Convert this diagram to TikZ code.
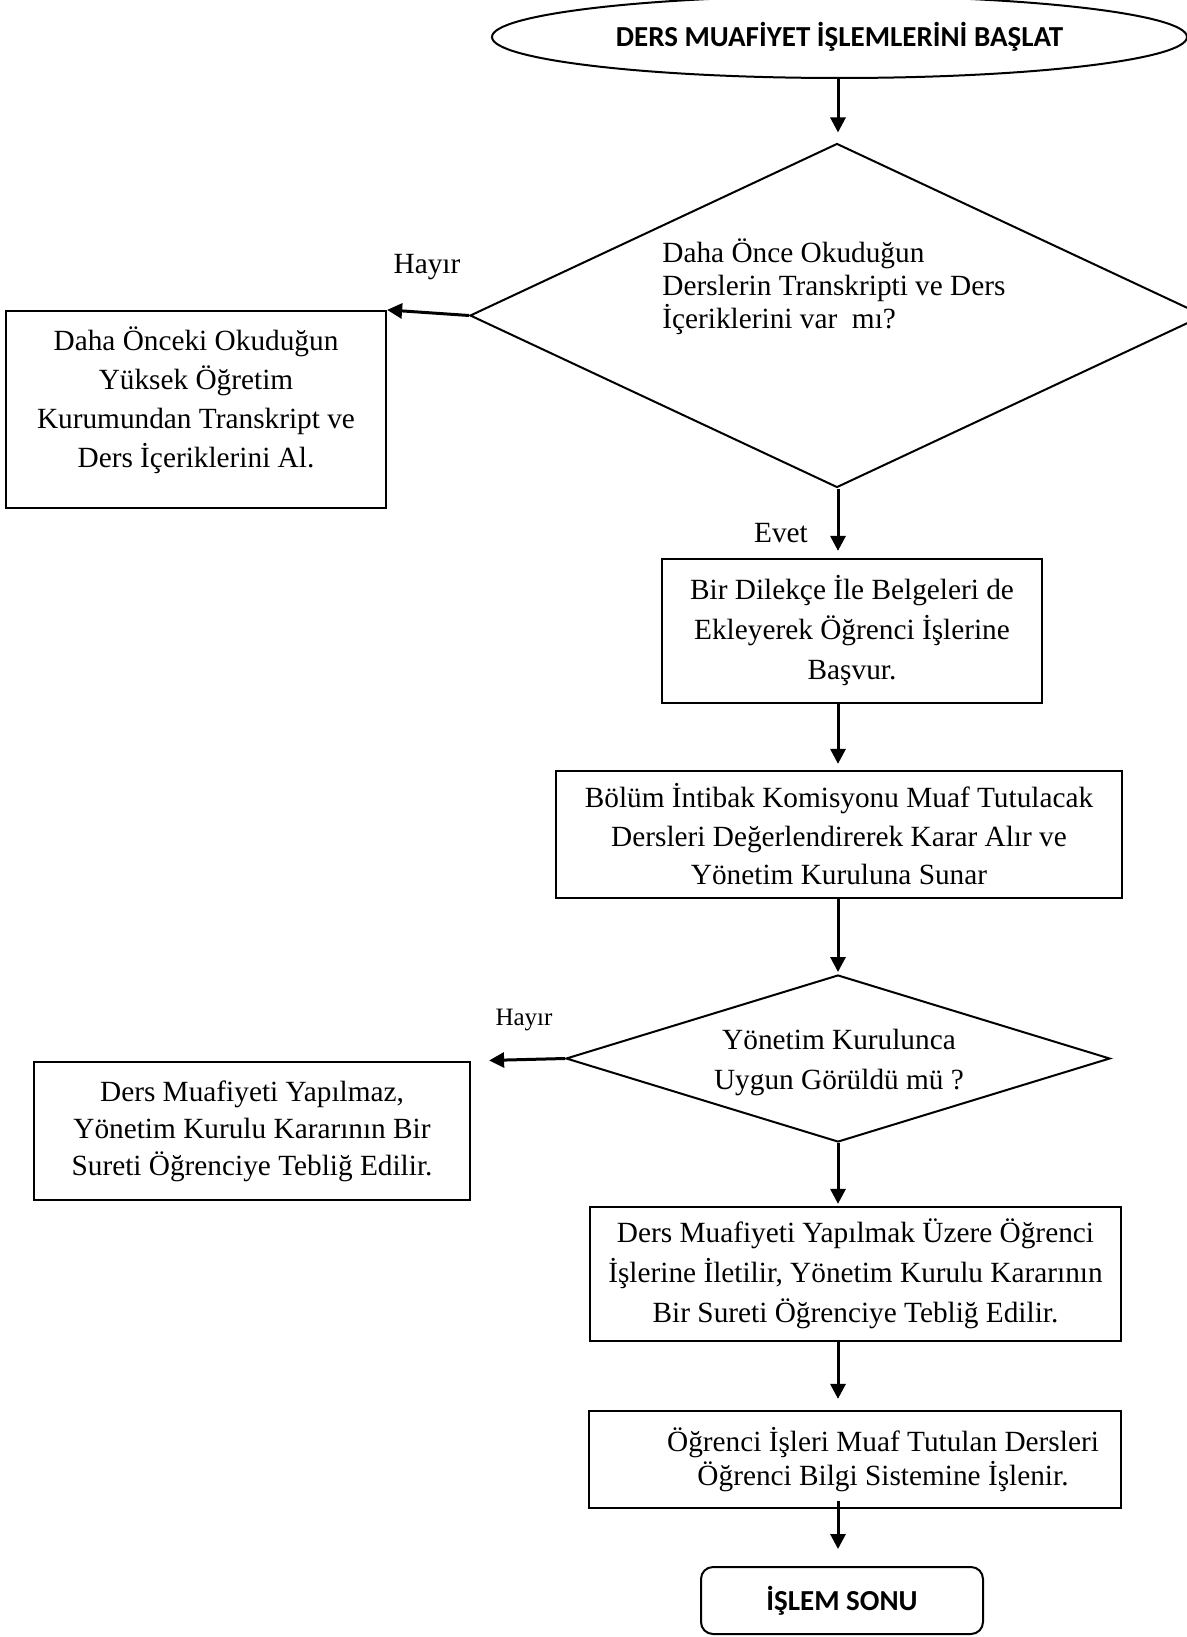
\documentclass[tikz,border=0pt]{standalone}
\usepackage{fontspec}
\setmainfont{Liberation Serif}
\newfontfamily\calfont{Carlito}
\usetikzlibrary{shapes.geometric,arrows.meta}

\begin{document}
\begin{tikzpicture}[x=0.5pt,y=-0.5pt,
  txt/.style={font=\fontsize{14.65}{#1}\selectfont, align=center, inner sep=0pt},
  procbox/.style={draw, rectangle, line width=1.1pt, inner sep=0pt, align=center},
  decision/.style={draw, diamond, line width=1pt, inner sep=0pt},
  terminal/.style={draw, line width=1pt, inner sep=0pt,
    font=\calfont\bfseries\fontsize{14.5}{17}\selectfont},
  arr/.style={line width=1.5pt, -{Triangle[length=7.5pt,width=7.5pt]}},
]
\clip (0,0) rectangle (1187,1637);

% main column of vertical connectors
\coordinate (col) at (838,0);

% start
\node[terminal, ellipse, minimum width=347.5pt, minimum height=41pt]
  (start) at (839.5,37) {DERS MUAFİYET İŞLEMLERİNİ BAŞLAT};

% first decision
\node[decision, minimum width=367pt, minimum height=172pt] (d1) at (837,315.5) {};
\node[txt=16.5, align=left, anchor=west] (d1text) at (662,287)
  {Daha Önce Okuduğun\\Derslerin Transkripti ve Ders\\İçeriklerini var~ mı?};

% "no" branch of the first decision
\node[txt=20] (no1) at (427,267) {Hayır};
\node[procbox, minimum width=190pt, minimum height=98.5pt] (box1) at (196,409.5) {};
\node[txt=19.5] (box1text) at (196,400)
  {Daha Önceki Okuduğun\\Yüksek Öğretim\\Kurumundan Transkript ve\\Ders İçeriklerini Al.};

% "yes" branch of the first decision
\node[txt=20] (yes1) at (781,533) {Evet};
\node[procbox, txt=20, minimum width=190pt, minimum height=72pt] (box2) at (852,631)
  {Bir Dilekçe İle Belgeleri de\\Ekleyerek Öğrenci İşlerine\\Başvur.};

\node[procbox, txt=19.25, minimum width=283pt, minimum height=63.5pt] (box3) at (839,834.5)
  {Bölüm İntibak Komisyonu Muaf Tutulacak\\Dersleri Değerlendirerek Karar Alır ve\\Yönetim Kuruluna Sunar};

% second decision
\node[decision, minimum width=272pt, minimum height=83.5pt] (d2) at (838,1058.5) {};
\node[txt=20] (d2text) at (839,1062) {Yönetim Kurulunca\\Uygun Görüldü mü ?};

\node[font=\fontsize{12.5}{15}\selectfont, inner sep=0pt] (no2) at (524,1020) {Hayır};
\node[procbox, txt=18.5, minimum width=218pt, minimum height=69pt] (box4) at (252,1131)
  {Ders Muafiyeti Yapılmaz,\\Yönetim Kurulu Kararının Bir\\Sureti Öğrenciye Tebliğ Edilir.};

\node[procbox, txt=20, minimum width=265.5pt, minimum height=67pt] (box5) at (855.5,1274)
  {Ders Muafiyeti Yapılmak Üzere Öğrenci\\İşlerine İletilir, Yönetim Kurulu Kararının\\Bir Sureti Öğrenciye Tebliğ Edilir.};

\node[procbox, minimum width=266pt, minimum height=48.5pt] (box6) at (855,1459.5) {};
\node[txt=17] (box6text) at (883,1460)
  {Öğrenci İşleri Muaf Tutulan Dersleri\\Öğrenci Bilgi Sistemine İşlenir.};

% end
\node[terminal, rectangle, rounded corners=6pt, minimum width=141pt, minimum height=33.5pt]
  (stop) at (842,1600.5) {İŞLEM SONU};

% connectors
\draw[arr, shorten >=5pt] (start.south -| col) -- (d1.north -| col);
\draw[arr] (d1.west) -- (box1.north east);
\draw[arr, shorten >=3.5pt] (d1.south -| col) -- (box2.north -| col);
\draw[arr, shorten >=3pt] (box2.south -| col) -- (box3.north -| col);
\draw[arr, shorten >=1pt] (box3.south -| col) -- (d2.north -| col);
\draw[arr, shorten >=9pt] (d2.west) -- (box4.north east);
\draw[arr, shorten >=1pt] (d2.south -| col) -- (box5.north -| col);
\draw[arr, shorten >=5.5pt] (box5.south -| col) -- (box6.north -| col);
\draw[arr, shorten <=-4pt, shorten >=8.5pt] (box6.south -| col) -- (stop.north -| col);
\end{tikzpicture}
\end{document}
